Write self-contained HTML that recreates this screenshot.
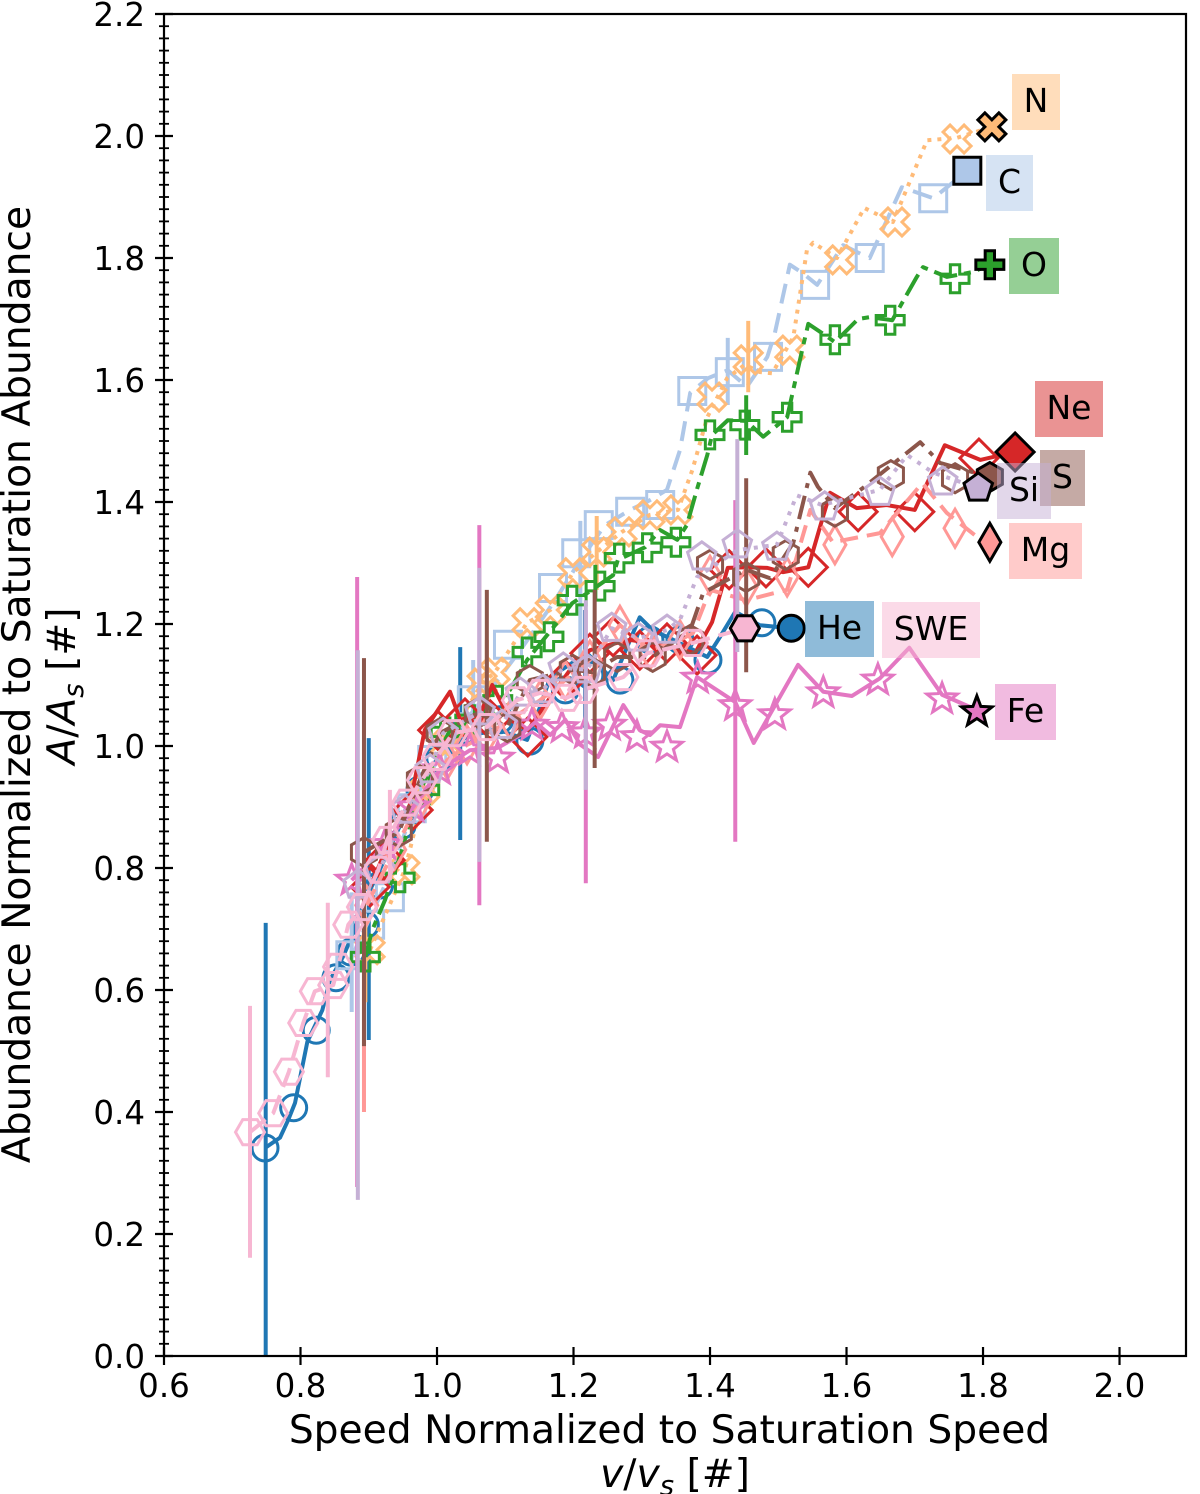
<!DOCTYPE html>
<html>
<head>
<meta charset="utf-8">
<title>Abundance vs Speed</title>
<style>
html,body{margin:0;padding:0;background:#fff;}
svg{display:block;font-family:"DejaVu Sans","Liberation Sans",sans-serif;}
</style>
</head>
<body>
<svg id="chart" xmlns="http://www.w3.org/2000/svg" width="1200" height="1494" viewBox="0 0 1200 1494">
<rect x="0" y="0" width="1200" height="1494" fill="#fff"/>
<g id="plot"></g>
<g id="axes"></g>
<g font-size="33" text-anchor="middle">
<g><rect x="1012" y="74" width="48" height="56" fill="#ffbb78" fill-opacity=".5"/><text x="1036" y="112">N</text></g>
<g><rect x="986" y="155" width="47" height="56" fill="#aec7e8" fill-opacity=".5"/><text x="1009.5" y="193">C</text></g>
<g><rect x="1009" y="238" width="50" height="56" fill="#2ca02c" fill-opacity=".5"/><text x="1034" y="276">O</text></g>
<g><rect x="1035" y="381" width="68" height="56" fill="#d62728" fill-opacity=".5"/><text x="1069" y="419">Ne</text></g>
<g><rect x="1040" y="450" width="45" height="56" fill="#8c564b" fill-opacity=".5"/><text x="1062.5" y="488">S</text></g>
<g><rect x="997" y="463" width="54" height="56" fill="#c5b0d5" fill-opacity=".5"/><text x="1024" y="501">Si</text></g>
<g><rect x="1009" y="523" width="73" height="56" fill="#ff9896" fill-opacity=".5"/><text x="1045.5" y="561">Mg</text></g>
<g><rect x="805" y="601" width="69" height="56" fill="#1f77b4" fill-opacity=".5"/><text x="839.5" y="639">He</text></g>
<g><rect x="882" y="602" width="98" height="56" fill="#f7b6d2" fill-opacity=".5"/><text x="931" y="640">SWE</text></g>
<g><rect x="995" y="684" width="61" height="56" fill="#e377c2" fill-opacity=".5"/><text x="1025.5" y="722">Fe</text></g>
</g>
<text x="669.5" y="1443" font-size="39.2" text-anchor="middle">Speed Normalized to Saturation Speed</text>
<text x="675" y="1487" font-size="39.2" text-anchor="middle"><tspan font-style="italic">v</tspan>/<tspan font-style="italic">v</tspan><tspan font-style="italic" font-size="27.5" dy="8">s</tspan><tspan dy="-8"> [#]</tspan></text>
<text transform="translate(30,684.5) rotate(-90)" font-size="39.2" text-anchor="middle">Abundance Normalized to Saturation Abundance</text>
<text transform="translate(75,686) rotate(-90)" font-size="39.2" text-anchor="middle"><tspan font-style="italic">A</tspan>/<tspan font-style="italic">A</tspan><tspan font-style="italic" font-size="27.5" dy="8">s</tspan><tspan dy="-8"> [#]</tspan></text>
</svg>
<script>
// ---- axis tick data ----
var xTickLabels = ['0.6','0.8','1.0','1.2','1.4','1.6','1.8','2.0'];
var yTickLabels = ['0.0','0.2','0.4','0.6','0.8','1.0','1.2','1.4','1.6','1.8','2.0','2.2'];
var xDomain = [0.6, 2.0974];
var yDomain = [0, 2.2];

// ---- He ----
var heLineV = [.748,.770,.782,.792,.810,.832,.843,.862,.873,.895,.916,.946,.975,1.004,1.048,1.092,1.132,1.151,1.166,1.220,1.258,1.297,1.316,1.346,1.396,1.412,1.437,1.473,1.519];
var heLineA = [.341,.358,.387,.415,.515,.567,.616,.654,.682,.748,.797,.870,.936,.985,1.018,1.026,1.010,1.064,1.113,1.152,1.108,1.211,1.190,1.174,1.146,1.174,1.220,1.198,1.193];
var heMarkV = [.748,.790,.823,.852,.874,.895,.916,.949,.975,1.004,1.041,1.092,1.136,1.188,1.224,1.268,1.312,1.356,1.397,1.476,1.519];
var heMarkA = [.341,.407,.534,.620,.662,.707,.772,.870,.928,.980,1.026,1.043,1.008,1.092,1.116,1.108,1.174,1.174,1.141,1.202,1.193];
var heErrV = [.749,.900,1.034,1.217];
var heErrLo = [0,.518,.846,1.03];
var heErrHi = [.710,1.013,1.162,1.223];

// ---- C ----
var cLineV = [.873,.934,.975,1.019,1.078,1.122,1.173,1.210,1.246,1.283,1.312,1.337,1.356,1.371,1.397,1.426,1.454,1.484,1.495,1.517,1.536,1.557,1.595,1.624,1.634,1.681,1.727,1.755,1.777];
var cLineA = [.649,.797,.928,1.010,1.092,1.157,1.239,1.305,1.362,1.387,1.403,1.420,1.485,1.579,1.603,1.616,1.589,1.638,1.677,1.789,1.775,1.756,1.821,1.805,1.800,1.916,1.898,1.923,1.943];
var cMarkV = [.873,.902,.931,.963,.993,1.051,1.104,1.170,1.204,1.237,1.283,1.327,1.374,1.429,1.485,1.554,1.634,1.727,1.777];
var cMarkA = [.657,.707,.752,.898,.977,1.075,1.166,1.259,1.316,1.362,1.384,1.395,1.582,1.613,1.638,1.756,1.800,1.898,1.943];
var cErrV = [.875,1.053,1.210,1.426];
var cErrLo = [.564,1.04,1.14,1.559];
var cErrHi = [.76,1.141,1.369,1.669];

// ---- N ----
var nLineV = [.902,.953,.982,1.012,1.066,1.085,1.132,1.166,1.199,1.234,1.271,1.312,1.353,1.374,1.396,1.425,1.451,1.473,1.491,1.522,1.542,1.551,1.586,1.626,1.668,1.718,1.762,1.813];
var nLineA = [.666,.797,.928,1.002,1.103,1.121,1.202,1.223,1.284,1.318,1.351,1.379,1.387,1.452,1.539,1.603,1.625,1.613,1.611,1.670,1.813,1.825,1.800,1.882,1.859,1.993,1.997,2.015];
var nMarkV = [.902,.953,.982,1.012,1.066,1.085,1.132,1.166,1.199,1.234,1.271,1.312,1.353,1.403,1.456,1.517,1.590,1.671,1.762,1.813];
var nMarkA = [.666,.797,.928,1.002,1.103,1.121,1.202,1.223,1.284,1.318,1.351,1.379,1.387,1.572,1.633,1.649,1.797,1.859,1.995,2.015];
var nErrV = [.895,1.073,1.234,1.456];
var nErrLo = [.58,1.04,1.256,1.580];
var nErrHi = [.72,1.174,1.377,1.697];

// ---- O ----
var oLineV = [.895,.905,.924,.949,.968,.997,1.019,1.063,1.107,1.132,1.173,1.198,1.227,1.258,1.265,1.305,1.327,1.352,1.366,1.382,1.396,1.403,1.426,1.453,1.478,1.513,1.522,1.536,1.544,1.568,1.583,1.617,1.634,1.667,1.703,1.712,1.747,1.785,1.810];
var oLineA = [.654,.698,.748,.830,.911,.977,1.026,1.051,1.092,1.141,1.198,1.234,1.256,1.280,1.305,1.326,1.354,1.338,1.362,1.425,1.477,1.510,1.534,1.533,1.507,1.539,1.584,1.654,1.692,1.674,1.662,1.700,1.703,1.698,1.769,1.785,1.769,1.777,1.789];
var oMarkV = [.895,.946,.982,1.012,1.048,1.089,1.132,1.164,1.198,1.239,1.267,1.308,1.350,1.400,1.451,1.513,1.583,1.664,1.759,1.810];
var oMarkA = [.654,.784,.928,1.023,1.043,1.075,1.154,1.179,1.239,1.262,1.308,1.325,1.334,1.510,1.526,1.539,1.666,1.698,1.766,1.789];
var oErrV = [1.232,1.453];
var oErrLo = [1.239,1.477];
var oErrHi = [1.297,1.575];

// ---- Ne ----
var neLineV = [.902,.931,.960,.982,1.019,1.034,1.063,1.081,1.107,1.133,1.158,1.195,1.224,1.253,1.283,1.327,1.363,1.378,1.403,1.426,1.454,1.484,1.507,1.544,1.564,1.576,1.615,1.659,1.700,1.744,1.796,1.847];
var neLineA = [.769,.846,.903,1.026,1.089,1.043,1.051,1.100,1.043,1.026,1.067,1.125,1.157,1.166,1.174,1.166,1.157,1.152,1.203,1.292,1.293,1.292,1.285,1.293,1.370,1.415,1.390,1.395,1.387,1.493,1.469,1.482];
var neMarkV = [.902,.924,.965,1.001,1.041,1.078,1.133,1.188,1.224,1.258,1.297,1.337,1.381,1.428,1.482,1.544,1.617,1.700,1.794,1.847];
var neMarkA = [.769,.813,.895,1.026,1.046,1.043,1.015,1.108,1.152,1.179,1.157,1.169,1.149,1.289,1.292,1.293,1.384,1.384,1.472,1.482];

// ---- Mg ----
var mgLineV = [.897,.938,.975,1.015,1.044,1.073,1.107,1.151,1.188,1.224,1.268,1.312,1.356,1.375,1.400,1.453,1.513,1.547,1.580,1.649,1.711,1.747,1.791,1.810];
var mgLineA = [.739,.830,.911,.977,1.002,1.018,1.043,1.075,1.108,1.141,1.198,1.157,1.174,1.185,1.256,1.239,1.256,1.387,1.334,1.349,1.431,1.382,1.343,1.334];
var mgMarkV = [.897,.938,.975,1.015,1.044,1.073,1.107,1.151,1.188,1.224,1.268,1.312,1.356,1.400,1.453,1.513,1.583,1.667,1.759,1.810];
var mgMarkA = [.739,.830,.911,.977,1.002,1.018,1.043,1.075,1.108,1.141,1.198,1.157,1.174,1.280,1.261,1.277,1.330,1.343,1.357,1.334];
var mgErrV = [.893];
var mgErrLo = [.400];
var mgErrHi = [.748];

// ---- Fe ----
var feLineV = [.875,.924,.965,1.004,1.048,1.089,1.122,1.144,1.166,1.188,1.210,1.236,1.273,1.297,1.312,1.327,1.356,1.381,1.437,1.464,1.529,1.566,1.608,1.649,1.692,1.740,1.791];
var feLineA = [.780,.838,.900,.961,.993,.997,1.018,1.039,1.018,1.043,1.002,.982,1.067,1.026,1.018,1.034,1.031,1.113,1.072,1.005,1.133,1.089,1.082,1.111,1.161,1.084,1.059];
var feMarkV = [.875,.924,.965,1.004,1.048,1.089,1.139,1.183,1.217,1.253,1.293,1.337,1.382,1.437,1.495,1.566,1.646,1.740,1.791];
var feMarkA = [.780,.838,.900,.961,.993,.980,1.034,1.030,1.021,1.034,1.015,.998,1.111,1.066,1.051,1.087,1.108,1.077,1.056];
var feErrV = [.883,1.062,1.218,1.437];
var feErrLo = [.277,.739,.775,.843];
var feErrHi = [1.277,1.362,1.223,1.403];

// ---- S ----
var sLineV = [.893,.944,.975,1.004,1.060,1.103,1.136,1.199,1.227,1.264,1.316,1.371,1.390,1.453,1.488,1.522,1.547,1.558,1.583,1.624,1.708,1.737,1.810];
var sLineA = [.826,.859,.944,1.021,1.054,1.031,1.108,1.125,1.121,1.146,1.146,1.190,1.251,1.289,1.275,1.333,1.448,1.425,1.390,1.423,1.498,1.464,1.441];
var sMarkV = [.893,.944,.975,1.004,1.060,1.103,1.136,1.199,1.227,1.264,1.316,1.371,1.400,1.453,1.511,1.583,1.665,1.759,1.810];
var sMarkA = [.826,.859,.944,1.021,1.054,1.031,1.108,1.125,1.121,1.146,1.146,1.174,1.297,1.277,1.313,1.384,1.444,1.439,1.441];
var sErrV = [.893,1.073,1.231,1.453];
var sErrLo = [.508,.843,.964,1.121];
var sErrHi = [1.144,1.256,1.256,1.439];

// ---- Si ----
var siLineV = [.884,.916,.953,.990,1.009,1.063,1.095,1.122,1.155,1.185,1.220,1.256,1.295,1.337,1.356,1.381,1.440,1.498,1.527,1.564,1.649,1.689,1.727,1.793];
var siLineA = [.772,.797,.895,.961,1.021,1.056,1.034,1.087,1.092,1.128,1.125,1.193,1.177,1.190,1.207,1.277,1.321,1.330,1.411,1.395,1.420,1.477,1.448,1.423];
var siMarkV = [.884,.916,.953,.990,1.009,1.063,1.095,1.122,1.155,1.185,1.220,1.256,1.295,1.337,1.388,1.440,1.498,1.568,1.649,1.741,1.793];
var siMarkA = [.772,.797,.895,.961,1.021,1.056,1.034,1.087,1.092,1.128,1.125,1.193,1.177,1.190,1.310,1.330,1.326,1.392,1.416,1.433,1.423];
var siErrV = [.884,1.062,1.218,1.440];
var siErrLo = [.256,.810,.928,1.154];
var siErrHi = [1.157,1.292,1.239,1.503];

// ---- SWE ----
var sweV = [.726,.760,.783,.804,.821,.848,.855,.870,.890,.914,.927,.956,.978,1.000,1.023,1.073,1.117,1.151,1.190,1.214,1.273,1.308,1.375,1.451];
var sweA = [.367,.398,.466,.546,.598,.608,.638,.707,.736,.797,.846,.907,.944,.982,1.021,1.031,1.075,1.087,1.079,1.092,1.113,1.152,1.169,1.193];
var sweErrV = [.726,.840,.931];
var sweErrLo = [.161,.457,.78];
var sweErrHi = [.574,.743,.928];

// ---- axis functions ----
var plotLeft = 164, plotRight = 1186, plotTop = 14, plotBottom = 1356;
function xScale(v){ return plotLeft + (v - xDomain[0]) / (xDomain[1] - xDomain[0]) * (plotRight - plotLeft); }
function yScale(a){ return plotBottom - (a - yDomain[0]) / (yDomain[1] - yDomain[0]) * (plotBottom - plotTop); }

var SVGNS = 'http://www.w3.org/2000/svg';
var plot = document.getElementById('plot');
var axes = document.getElementById('axes');
function mk(tag, parent, attrs){
  var el = document.createElementNS(SVGNS, tag);
  for (var k in attrs) el.setAttribute(k, attrs[k]);
  parent.appendChild(el);
  return el;
}
function pts(list){ return list.map(function(p){ return p[0].toFixed(2) + ',' + p[1].toFixed(2); }).join(' '); }

// ---- marker shapes: list of unit points (radius ~1) ----
function regular(n, rot){
  var r = [];
  for (var i = 0; i < n; i++){ var t = rot + i * 2 * Math.PI / n; r.push([Math.cos(t), Math.sin(t)]); }
  return r;
}
function starPts(){
  var r = [];
  for (var i = 0; i < 10; i++){
    var t = -Math.PI / 2 + i * Math.PI / 5, m = i % 2 ? 0.42 : 1;
    r.push([m * Math.cos(t), m * Math.sin(t)]);
  }
  return r;
}
var plusShape = [[-1/3,-1],[1/3,-1],[1/3,-1/3],[1,-1/3],[1,1/3],[1/3,1/3],[1/3,1],[-1/3,1],[-1/3,1/3],[-1,1/3],[-1,-1/3],[-1/3,-1/3]];
var xShape = [[0,-.5],[.5,-1],[1,-.5],[.5,0],[1,.5],[.5,1],[0,.5],[-.5,1],[-1,.5],[-.5,0],[-1,-.5],[-.5,-1]];
var shapes = {
  square: {p:[[-1,-1],[1,-1],[1,1],[-1,1]], r:13.5},
  plus: {p:plusShape, r:14},
  x: {p:xShape, r:14},
  diamond: {p:[[0,-1],[1,0],[0,1],[-1,0]], r:19},
  thin: {p:[[0,-1],[.58,0],[0,1],[-.58,0]], r:19},
  hexFlat: {p:regular(6,0), r:14.5},
  hexPoint: {p:regular(6,-Math.PI/2), r:14.5},
  pentagon: {p:regular(5,-Math.PI/2), r:15},
  star: {p:starPts(), r:16}
};
function drawMarker(parent, shape, cx, cy, color, filled){
  var sw = 3, fill = filled ? color : 'none', stroke = filled ? '#000' : color;
  if (shape === 'circle'){
    return mk('circle', parent, {cx:cx, cy:cy, r:13, fill:fill, stroke:stroke, 'stroke-width':sw});
  }
  var s = shapes[shape];
  return mk('polygon', parent, {points: pts(s.p.map(function(q){ return [cx + q[0]*s.r, cy + q[1]*s.r]; })), fill:fill, stroke:stroke, 'stroke-width':sw, 'stroke-linejoin':'miter'});
}

var series = [
 {name:'he', color:'#1f77b4', shape:'circle', dash:'', lv:heLineV, la:heLineA, mv:heMarkV, ma:heMarkA, ev:heErrV, el:heErrLo, eh:heErrHi},
 {name:'c', color:'#aec7e8', shape:'square', dash:'20 10', lv:cLineV, la:cLineA, mv:cMarkV, ma:cMarkA, ev:cErrV, el:cErrLo, eh:cErrHi},
 {name:'n', color:'#ffbb78', shape:'x', dash:'4 6', lv:nLineV, la:nLineA, mv:nMarkV, ma:nMarkA, ev:nErrV, el:nErrLo, eh:nErrHi},
 {name:'o', color:'#2ca02c', shape:'plus', dash:'24 7 7 7', lv:oLineV, la:oLineA, mv:oMarkV, ma:oMarkA, ev:oErrV, el:oErrLo, eh:oErrHi},
 {name:'ne', color:'#d62728', shape:'diamond', dash:'', lv:neLineV, la:neLineA, mv:neMarkV, ma:neMarkA, ev:[], el:[], eh:[]},
 {name:'mg', color:'#ff9896', shape:'thin', dash:'18 9', lv:mgLineV, la:mgLineA, mv:mgMarkV, ma:mgMarkA, ev:mgErrV, el:mgErrLo, eh:mgErrHi},
 {name:'fe', color:'#e377c2', shape:'star', dash:'', lv:feLineV, la:feLineA, mv:feMarkV, ma:feMarkA, ev:feErrV, el:feErrLo, eh:feErrHi},
 {name:'s', color:'#8c564b', shape:'hexPoint', dash:'24 8 5 8', lv:sLineV, la:sLineA, mv:sMarkV, ma:sMarkA, ev:sErrV, el:sErrLo, eh:sErrHi},
 {name:'si', color:'#c5b0d5', shape:'pentagon', dash:'4 7', lv:siLineV, la:siLineA, mv:siMarkV, ma:siMarkA, ev:siErrV, el:siErrLo, eh:siErrHi},
 {name:'swe', color:'#f7b6d2', shape:'hexFlat', dash:'20 9', lv:sweV, la:sweA, mv:sweV, ma:sweA, ev:sweErrV, el:sweErrLo, eh:sweErrHi}
];

var endMarkers = [];
series.forEach(function(s){
  var g = mk('g', plot, {});
  
  
  s.ev.forEach(function(v, i){
    var bar = mk('line', g, {x1:xScale(v), x2:xScale(v), y1:yScale(s.el[i]), y2:yScale(s.eh[i]), stroke:s.color, 'stroke-width':4});
    
    
  });
  var line = mk('polyline', g, {points: pts(s.lv.map(function(v, i){ return [xScale(v), yScale(s.la[i])]; })), fill:'none', stroke:s.color, 'stroke-width':4, 'stroke-linejoin':'round'});
  if (s.dash) line.setAttribute('stroke-dasharray', s.dash);
  
  
  var last = s.mv.length - 1;
  s.mv.forEach(function(v, i){
    if (i === last) { endMarkers.push({s:s, v:v, a:s.ma[i]}); return; }
    var m = drawMarker(g, s.shape, xScale(v), yScale(s.ma[i]), s.color, false);
    
    
  });
});
endMarkers.forEach(function(e){
  var m = drawMarker(plot, e.s.shape, xScale(e.v), yScale(e.a), e.s.color, true);
  
  
});

// ---- frame and ticks ----
var frame = mk('rect', axes, {x:plotLeft, y:plotTop, width:plotRight-plotLeft, height:plotBottom-plotTop, fill:'none', stroke:'#000', 'stroke-width':2.2});


xTickLabels.forEach(function(t){
  var x = xScale(parseFloat(t));
  var tick = mk('line', axes, {x1:x, x2:x, y1:plotBottom-9, y2:plotBottom+9, stroke:'#000', 'stroke-width':2.2});
  
  
  var lab = mk('text', axes, {x:x, y:1397, 'font-size':32.5, 'text-anchor':'middle'});
  lab.textContent = t;
  
  
});
for (var k = 0; k <= 110; k++){
  if (k % 10 === 0) continue;
  var my = yScale(k * 0.02);
  var minor = mk('line', axes, {x1:plotLeft-5, x2:plotLeft+5, y1:my, y2:my, stroke:'#000', 'stroke-width':1.8});
  
  
}
yTickLabels.forEach(function(t){
  var y = yScale(parseFloat(t));
  var tick = mk('line', axes, {x1:plotLeft-9, x2:plotLeft+9, y1:y, y2:y, stroke:'#000', 'stroke-width':2.2});
  
  
  var lab = mk('text', axes, {x:145, y:y+12, 'font-size':32.5, 'text-anchor':'end'});
  lab.textContent = t;
  
  
});
</script>
</body>
</html>
